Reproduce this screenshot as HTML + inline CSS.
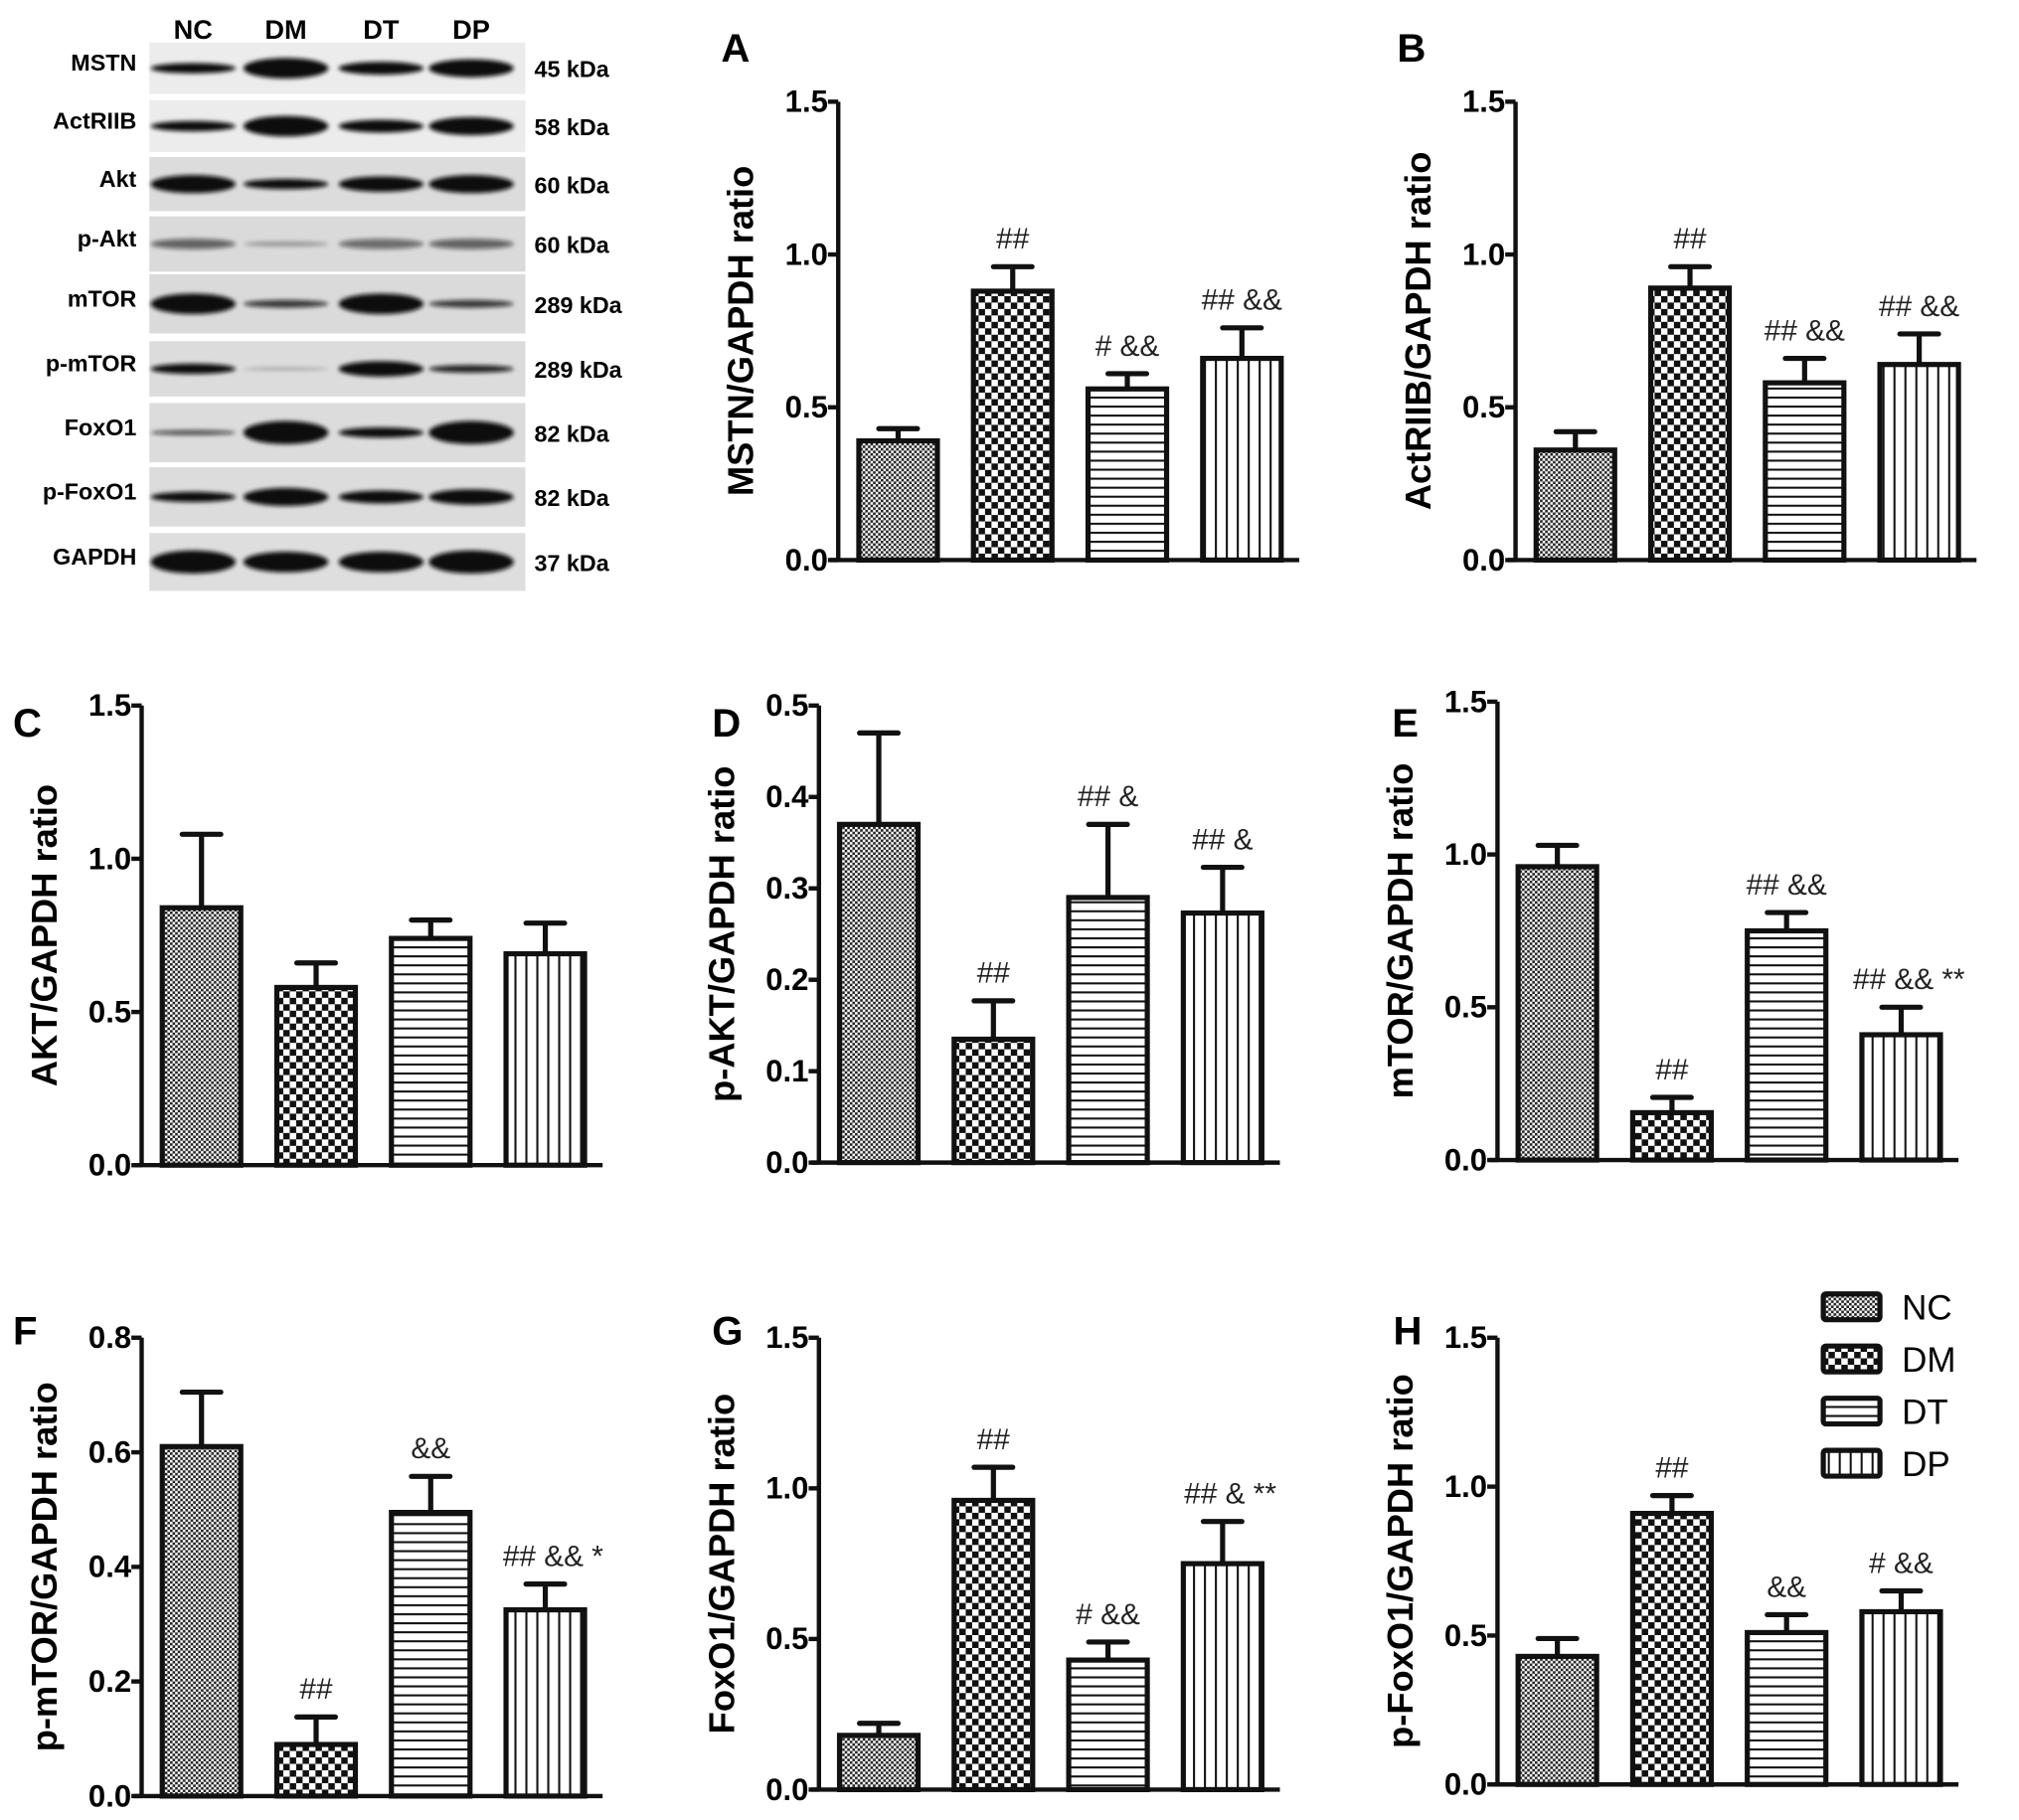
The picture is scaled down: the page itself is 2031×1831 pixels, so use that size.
<!DOCTYPE html>
<html><head><meta charset="utf-8">
<style>
html,body{margin:0;padding:0;background:#fff;}
svg{display:block;}
text{font-family:"Liberation Sans",Arial,sans-serif;}
</style></head>
<body>
<svg id="fig" width="2031" height="1831" viewBox="0 0 1568 1413.6" xmlns="http://www.w3.org/2000/svg">
<defs>
<pattern id="pNC" width="4" height="4" patternUnits="userSpaceOnUse"><rect width="4" height="4" fill="#fff"/><rect width="2" height="2" fill="#222"/><rect x="2" y="2" width="2" height="2" fill="#222"/></pattern>
<pattern id="pDM" width="10" height="10" patternUnits="userSpaceOnUse"><rect width="10" height="10" fill="#fff"/><rect width="5" height="5" fill="#111"/><rect x="5" y="5" width="5" height="5" fill="#111"/></pattern>
<pattern id="pDT" width="8" height="7" patternUnits="userSpaceOnUse"><rect width="8" height="7" fill="#fff"/><rect y="0" width="8" height="1.6" fill="#111"/></pattern>
<pattern id="pDP" width="8.5" height="8" patternUnits="userSpaceOnUse"><rect width="8.5" height="8" fill="#fff"/><rect x="0" width="1.6" height="8" fill="#111"/></pattern>
<filter id="blur" x="-20%" y="-200%" width="140%" height="500%"><feGaussianBlur stdDeviation="1.6"/></filter>
</defs>
<g id="blot"></g>
<g id="charts"></g>
<g id="legend"></g>
</svg>
<script>
const NS='http://www.w3.org/2000/svg';
const categories=['NC','DM','DT','DP'];
const patterns=['url(#pNC)','url(#pDM)','url(#pDT)','url(#pDP)'];

const valuesA=[0.39,0.88,0.56,0.66]; const errA=[0.43,0.96,0.61,0.76]; const annA=['','##','# &&','## &&'];
const valuesB=[0.36,0.89,0.58,0.64]; const errB=[0.42,0.96,0.66,0.74]; const annB=['','##','## &&','## &&'];
const valuesC=[0.84,0.58,0.74,0.69]; const errC=[1.08,0.66,0.80,0.79]; const annC=['','','',''];
const valuesD=[0.37,0.135,0.29,0.273]; const errD=[0.47,0.177,0.37,0.323]; const annD=['','##','## &','## &'];
const valuesE=[0.96,0.155,0.75,0.41]; const errE=[1.03,0.205,0.81,0.50]; const annE=['','##','## &&','## && **'];
const valuesF=[0.61,0.09,0.495,0.325]; const errF=[0.705,0.138,0.558,0.37]; const annF=['','##','&&','## && *'];
const valuesG=[0.18,0.96,0.43,0.75]; const errG=[0.22,1.07,0.49,0.89]; const annG=['','##','# &&','## & **'];
const valuesH=[0.43,0.91,0.51,0.58]; const errH=[0.49,0.97,0.57,0.65]; const annH=['','##','&&','# &&'];
const ticks15=['0.0','0.5','1.0','1.5'];
const ticks05=['0.0','0.1','0.2','0.3','0.4','0.5'];
const ticks08=['0.0','0.2','0.4','0.6','0.8'];

function mk(tag,attrs,parent){const e=document.createElementNS(NS,tag);for(const k in attrs)e.setAttribute(k,attrs[k]);parent.appendChild(e);return e;}

const charts=[
 {id:'A',letter:'A',lx:560,ly:20,ax:651,y0:435,y1:79,max:1.5,ticks:ticks15,title:'MSTN/GAPDH ratio',v:valuesA,e:errA,a:annA},
 {id:'B',letter:'B',lx:1085,ly:20,ax:1177,y0:435,y1:79,max:1.5,ticks:ticks15,title:'ActRIIB/GAPDH ratio',v:valuesB,e:errB,a:annB},
 {id:'C',letter:'C',lx:10,ly:544,ax:110,y0:905,y1:548,max:1.5,ticks:ticks15,title:'AKT/GAPDH ratio',v:valuesC,e:errC,a:annC},
 {id:'D',letter:'D',lx:553,ly:544,ax:636,y0:903,y1:548,max:0.5,ticks:ticks05,title:'p-AKT/GAPDH ratio',v:valuesD,e:errD,a:annD},
 {id:'E',letter:'E',lx:1081,ly:544,ax:1163,y0:901,y1:545,max:1.5,ticks:ticks15,title:'mTOR/GAPDH ratio',v:valuesE,e:errE,a:annE},
 {id:'F',letter:'F',lx:10,ly:1016,ax:110,y0:1395,y1:1039,max:0.8,ticks:ticks08,title:'p-mTOR/GAPDH ratio',v:valuesF,e:errF,a:annF},
 {id:'G',letter:'G',lx:553,ly:1016,ax:636,y0:1390,y1:1039,max:1.5,ticks:ticks15,title:'FoxO1/GAPDH ratio',v:valuesG,e:errG,a:annG},
 {id:'H',letter:'H',lx:1082,ly:1016,ax:1163,y0:1386,y1:1039,max:1.5,ticks:ticks15,title:'p-FoxO1/GAPDH ratio',v:valuesH,e:errH,a:annH}
];
const root=document.getElementById('charts');
charts.forEach(c=>{
  const g=mk('g',{},root);
  
  
  const yS=v=>c.y0-(v/c.max)*(c.y0-c.y1);
  const xS=i=>c.ax+16+i*89;
  const bw=61;
  const L=mk('text',{x:c.lx,y:c.ly+28,'font-size':31,'font-weight':'bold'},g); L.textContent=c.letter;
  
  
  const tx=c.ax-66, ty=(c.y0+c.y1)/2;
  const T=mk('text',{x:tx,y:ty,'font-size':28,'font-weight':'bold','text-anchor':'middle',transform:`rotate(-90 ${tx} ${ty})`},g);
  T.textContent=c.title;
  
  
  c.v.forEach((v,i)=>{
    const x=xS(i), yt=yS(v), ye=yS(c.e[i]), cx=x+bw/2;
    const eb=mk('path',{d:`M${cx} ${yt} V${ye} M${cx-15} ${ye} H${cx+15}`,stroke:'#111','stroke-width':4,fill:'none','stroke-linecap':'round'},g);
    
    
    const r=mk('rect',{x:x,y:yt,width:bw,height:c.y0-yt,fill:patterns[i],stroke:'#111','stroke-width':4},g);
    
    
    if(c.a[i]){const t=mk('text',{x:cx+(c.a[i].length>5?6:0),y:ye-14,'font-size':23,'text-anchor':'middle',fill:'#222'},g);t.textContent=c.a[i];
      
      }
  });
  const ya=mk('line',{x1:c.ax,y1:c.y1,x2:c.ax,y2:c.y0,stroke:'#111','stroke-width':3.4},g);
  
  
  const xa=mk('line',{x1:c.ax-6,y1:c.y0,x2:c.ax+358,y2:c.y0,stroke:'#111','stroke-width':3.4},g);
  
  
  c.ticks.forEach(tl=>{
    const y=yS(parseFloat(tl));
    mk('line',{x1:c.ax-8,y1:y,x2:c.ax,y2:y,stroke:'#111','stroke-width':3.4},g);
    const t=mk('text',{x:c.ax-8,y:y+8,'font-size':24,'font-weight':'bold','text-anchor':'end'},g);t.textContent=tl;
    
    
  });
});
const lg=document.getElementById('legend');
categories.forEach((cat,i)=>{
  const y=1005+i*40.5;
  const r=mk('rect',{x:1416,y:y,width:44,height:20,fill:patterns[i],stroke:'#111','stroke-width':4,rx:2},lg);
  
  
  const t=mk('text',{x:1477,y:y+20,'font-size':27},lg);t.textContent=cat;
  
  
});
const blotRows=['MSTN','ActRIIB','Akt','p-Akt','mTOR','p-mTOR','FoxO1','p-FoxO1','GAPDH'];
const blotKda=['45 kDa','58 kDa','60 kDa','60 kDa','289 kDa','289 kDa','82 kDa','82 kDa','37 kDa'];
const blotY=[33,78,122,168,213,265,313,363,414];
const blotH=[40,40,42,43,46,43,46,46,45];
const blotBg=['#ececec','#ececec','#dcdcdc','#dadada','#dadada','#dcdcdc','#dcdcdc','#dcdcdc','#dedede'];
const bandT=[[4,8,5,7],[4,8,5,7],[7,4,6,7],[4,2,4,4],[8,3,8,3],[4,1,6,3],[2,9,4,9],[4,7,5,6],[9,8,8,9]];
const bandAlpha=[[1,1,1,1],[1,1,1,1],[1,1,1,1],[.6,.3,.55,.6],[1,.8,1,.8],[1,.3,1,.9],[.7,1,1,1],[1,1,1,1],[1,1,1,1]];
const lanes=[150,222,296,366];
const bl=document.getElementById('blot');
categories.forEach((cat,i)=>{const t=mk('text',{x:lanes[i],y:30,'font-size':21,'font-weight':'bold','text-anchor':'middle'},bl);t.textContent=cat;
  
  });
blotRows.forEach((name,r)=>{
  const y=blotY[r], h=blotH[r], cy=y+h/2;
  mk('rect',{x:116,y:y,width:292,height:h,fill:blotBg[r]},bl);
  lanes.forEach((lx,i)=>{
    mk('ellipse',{cx:lx,cy:cy,rx:33,ry:bandT[r][i],fill:'#111','fill-opacity':bandAlpha[r][i],filter:'url(#blur)'},bl);
  });
  const t=mk('text',{x:106,y:cy+2,'font-size':18,'font-weight':'bold','text-anchor':'end'},bl);t.textContent=name;
  
  
  const k=mk('text',{x:415,y:cy+7,'font-size':18,'font-weight':'bold'},bl);k.textContent=blotKda[r];
  
  
});
</script>
</body></html>
